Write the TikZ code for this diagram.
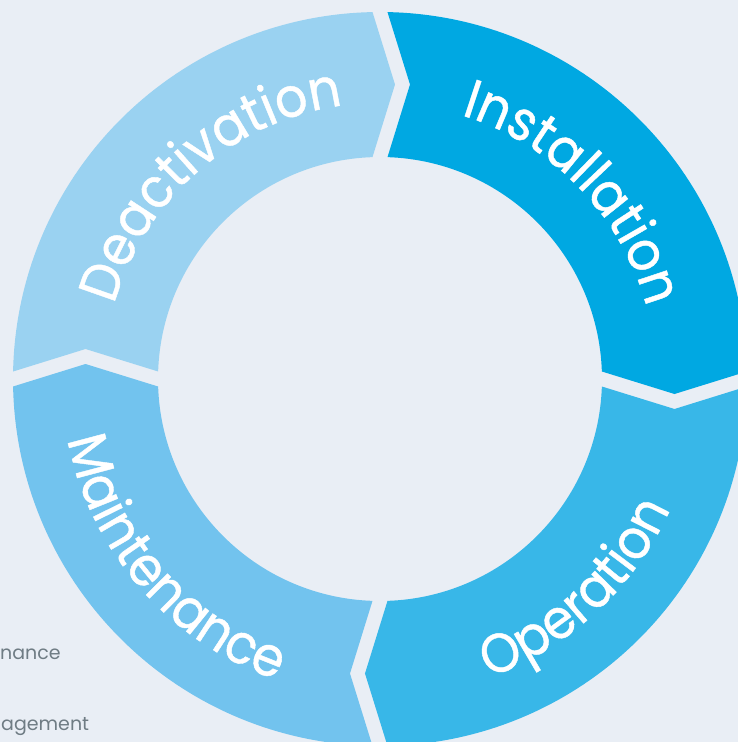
\documentclass[tikz,border=0pt]{standalone}
\usepackage{fontspec}
\setmainfont{Poppins}
\newfontfamily\ringface[FakeStretch=0.92,FakeBold=0.8]{Poppins}
\usetikzlibrary{calc,decorations.text}

\definecolor{bgpale}{HTML}{E9EEF5}
\definecolor{installblue}{HTML}{00A8E2}
\definecolor{operblue}{HTML}{38B7E8}
\definecolor{maintblue}{HTML}{72C3EE}
\definecolor{deactblue}{HTML}{9AD2F1}
\definecolor{notegrey}{HTML}{6F7C84}

\newcommand{\ringfont}{\ringface\fontsize{55}{55}\selectfont\color{white}}

\begin{document}
\begin{tikzpicture}[x=1pt, y=1pt,
        phase/.style={fill=#1, draw=none},
        ringtext/.style={decorate, decoration={text along path, text align=center, text={|\ringfont|#1}}},
        note/.style={anchor=base west, inner sep=0pt, text=notegrey, font=\fontsize{19}{19}\selectfont}]
    % background and page size
    \fill[bgpale] (-380,-363) rectangle (358,379);
    \useasboundingbox (-380,-363) rectangle (358,379);

    % the four chevron segments of the ring (clockwise)
    \foreach \from/\to/\col in {90/0/installblue, 0/-90/operblue, -90/-180/maintblue, 180/90/deactblue} {
        \fill[phase=\col] (\from-1.17:367) arc[start angle=\from-1.17, end angle=\to+1.17, radius=367]
            -- ($(\to:294.5)+(\to-90:15)$)
            -- (\to+1.94:222) arc[start angle=\to+1.94, end angle=\from-1.94, radius=222]
            -- ($(\from:294.5)+(\from-90:30)$) -- cycle;
    }

    % curved labels
    \path[ringtext=Deactivation] (175:276) arc[start angle=175, end angle=87, radius=276];
    \path[ringtext=Installation] (88:276) arc[start angle=88, end angle=0, radius=276];
    \path[ringtext=Operation] (-91:318) arc[start angle=-91, end angle=-3, radius=318];
    \path[ringtext=Maintenance] (177:318) arc[start angle=177, end angle=265, radius=318];

    % cut-off side notes
    \node[note] (noteA) at (-380,-280) {nance};
    \node[note] (noteB) at (-379,-351) {agement};
\end{tikzpicture}
\end{document}
